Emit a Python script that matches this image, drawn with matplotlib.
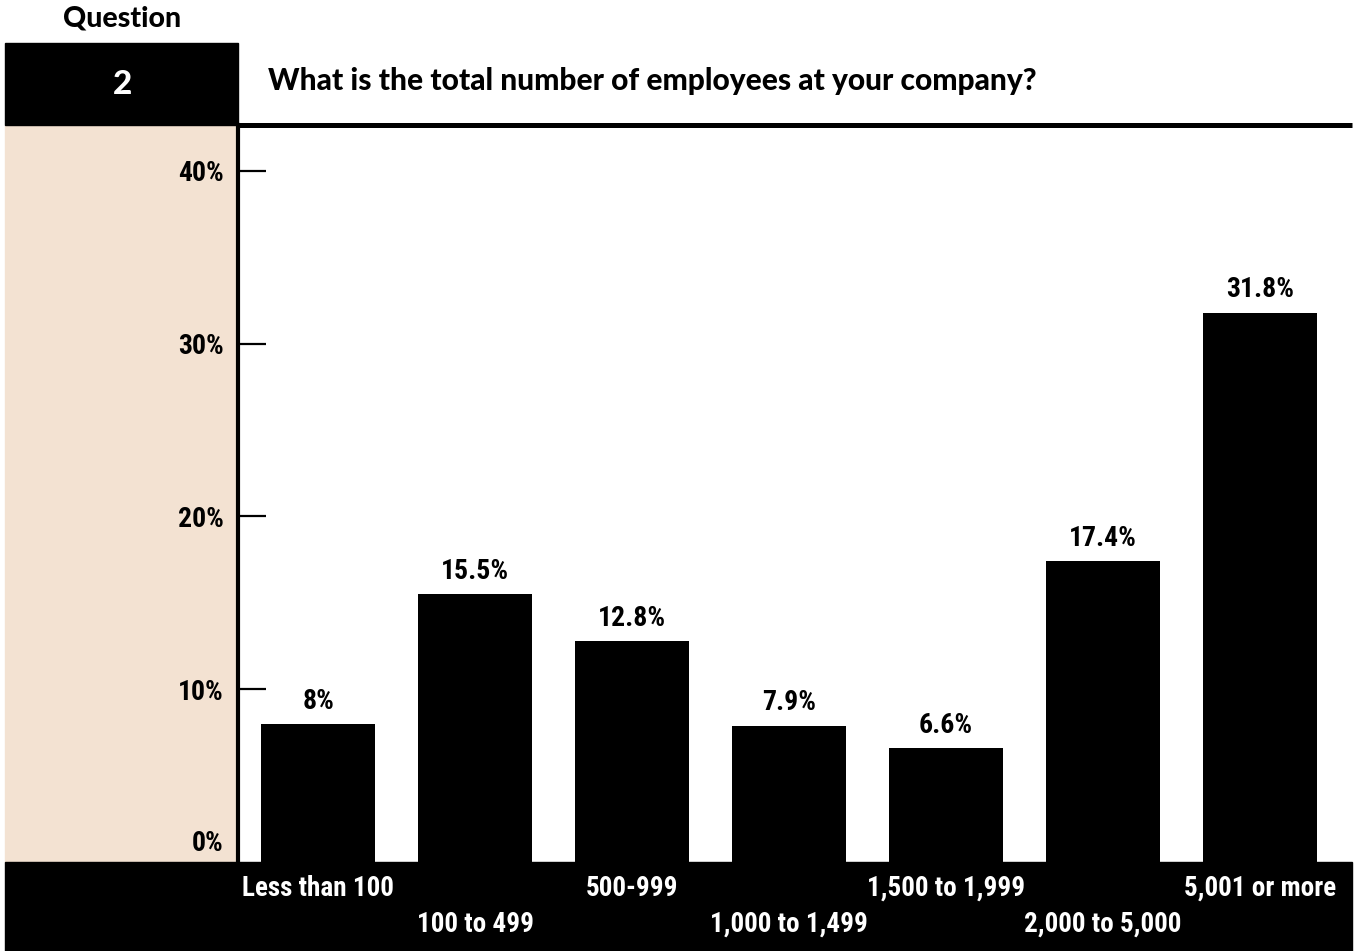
import matplotlib
matplotlib.use("Agg")
import matplotlib.pyplot as plt
from matplotlib.patches import Rectangle

categories = ["Less than 100", "100 to 499", "500-999", "1,000 to 1,499",
              "1,500 to 1,999", "2,000 to 5,000", "5,001 or more"]
shares = [8, 15.5, 12.8, 7.9, 6.6, 17.4, 31.8]
value_labels = ["8%", "15.5%", "12.8%", "7.9%", "6.6%", "17.4%", "31.8%"]
y_ticks = [10, 20, 30, 40]
y_tick_labels = ["10%", "20%", "30%", "40%"]

question_no = "2"
question_text = "What is the total number of employees at your company?"

W, H = 1357, 951
BEIGE = "#f3e2d2"

narrow = ["Roboto Condensed", "DejaVu Sans"]
heading = ["Lato", "DejaVu Sans"]


def fx(x):
    return x / W


def fy(y):
    return 1 - y / H


fig = plt.figure(figsize=(W / 100, H / 100), dpi=100)

# left beige strip, header box and bottom band
fig.add_artist(Rectangle((fx(5), fy(862)), fx(238) - fx(5), fy(125) - fy(862),
                         transform=fig.transFigure, color=BEIGE, zorder=-2))
fig.add_artist(Rectangle((fx(5), fy(125)), fx(238) - fx(5), fy(43) - fy(125),
                         transform=fig.transFigure, color="black", zorder=-1))
fig.add_artist(Rectangle((fx(5), 0), fx(1352) - fx(5), fy(862),
                         transform=fig.transFigure, color="black", zorder=-1))

fig.text(fx(122), fy(19), "Question", ha="center", va="center",
         fontsize=20.5, fontweight=900, family=heading)
fig.text(fx(122), fy(84), question_no, ha="center", va="center", color="white",
         fontsize=24, fontweight=900, family=heading)
fig.text(fx(268), fy(81), question_text, ha="left", va="center",
         fontsize=21.5, fontweight=900, family=heading)

ax = fig.add_axes([fx(238), fy(862), fx(1352) - fx(238), fy(125) - fy(862)])
ax.set_facecolor("none")
x = list(range(len(categories)))
bars = ax.bar(x, shares, width=0.726, color="black")

for rect, lab in zip(bars, value_labels):
    ax.annotate(lab, (rect.get_x() + rect.get_width() / 2, rect.get_height()),
                xytext=(0, 11), textcoords="offset points", ha="center",
                va="baseline", fontsize=20, fontweight="bold", family=narrow)

ax.set_xlim(-0.51, 6.586)
ax.set_ylim(0, 42.66)
ax.set_yticks(y_ticks)
ax.set_yticklabels(y_tick_labels, fontsize=20, fontweight="bold", family=narrow)
ax.tick_params(axis="y", direction="in", length=20, width=1.6, pad=10)
ax.tick_params(axis="x", bottom=False, labelbottom=False)
ax.annotate("0%", (0, 0), xycoords=ax.get_yaxis_transform(),
            xytext=(-10.5, 8), textcoords="offset points", ha="right",
            va="baseline", fontsize=20, fontweight="bold", family=narrow)

for side in ("right", "bottom"):
    ax.spines[side].set_visible(False)
ax.spines["left"].set_linewidth(3)
ax.spines["top"].set_linewidth(3.6)
ax.spines["top"].set_capstyle("butt")

# category names staggered over two rows in the band
for i, name in enumerate(categories):
    row_y = 888 if i % 2 == 0 else 924
    fig.text(ax.transData.transform((i, 0))[0] / W, fy(row_y), name,
             ha="center", va="center", color="white", fontsize=19.5,
             fontweight="bold", family=narrow)

fig.savefig("out.png", dpi=100)
